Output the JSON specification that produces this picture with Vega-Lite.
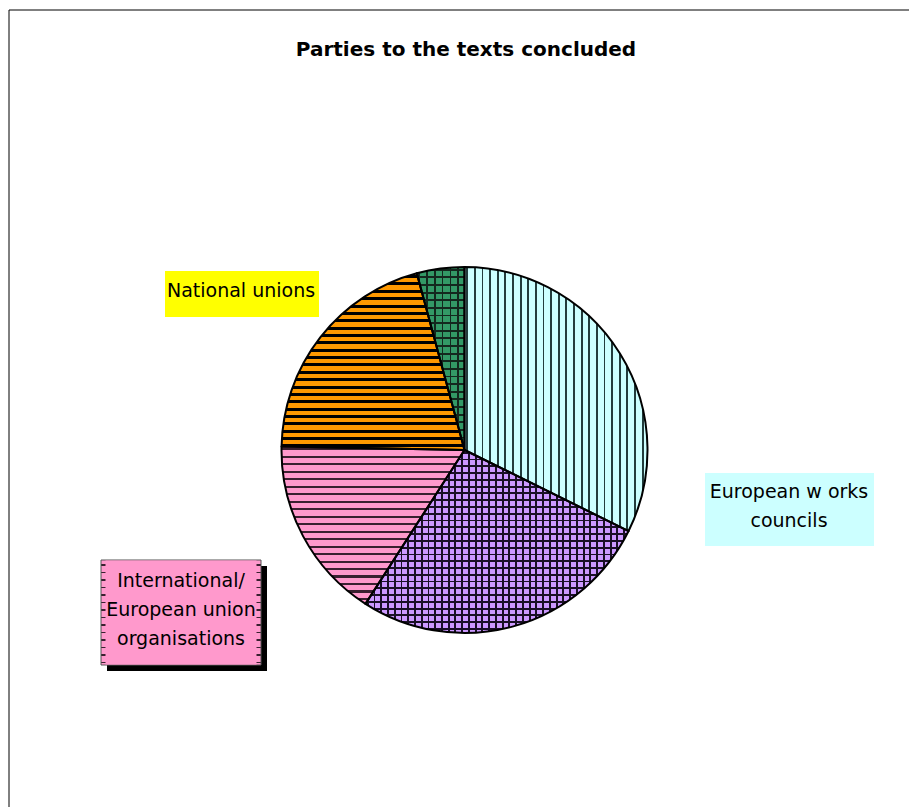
{
"$schema": "https://vega.github.io/schema/vega-lite/v6.json",
"width": 889,
"height": 714,
"autosize": {"type": "none"},
"padding": {"left": 20, "top": 93, "right": 0, "bottom": 0},
"background": "#ffffff",
"config": {"view": {"stroke": null}},
"data": {"values": [
  {"party": "European works councils", "label": "European w orks\ncouncils", "value": 32.3, "order": 1},
  {"party": "Joint (works councils and unions)", "label": "", "value": 26.8, "order": 2},
  {"party": "International/European union organisations", "label": "International/\nEuropean union\norganisations", "value": 16.2, "order": 3},
  {"party": "National unions", "label": "National unions", "value": 20.5, "order": 4},
  {"party": "Other", "label": "", "value": 4.2, "order": 5}
]},
"transform": [{"stack": "value", "groupby": [], "sort": [{"field": "order", "order": "ascending"}], "as": ["t0", "t1"]}],
"layer": [
  {"data": {"values": [{}]}, "mark": {"type": "rect", "fill": "#ffffff", "stroke": "#000000", "strokeWidth": 1},
   "encoding": {"x": {"value": -11}, "y": {"value": -83}, "x2": {"value": 920}, "y2": {"value": 900}}},

  {"data": {"values": [{"title": "Parties to the texts concluded"}]},
   "mark": {"type": "text", "font": "DejaVu Sans", "fontSize": 20, "fontWeight": "bold", "color": "#000000", "align": "center", "baseline": "alphabetic"},
   "encoding": {"text": {"field": "title"}, "x": {"value": 446}, "y": {"value": -37}}},

  {"transform": [{"filter": "datum.order == 1"}],
   "mark": {"type": "arc", "radius": 183, "fill": {"gradient": "linear", "x1": 0, "y1": 0, "x2": 1, "y2": 0, "stops": [
{"offset":0.01,"color":"#ccffff"},{"offset":0.01,"color":"#223c3c"},{"offset":0.02,"color":"#223c3c"},{"offset":0.02,"color":"#ccffff"},
{"offset":0.0517,"color":"#ccffff"},{"offset":0.0517,"color":"#223c3c"},{"offset":0.0617,"color":"#223c3c"},{"offset":0.0617,"color":"#ccffff"},
{"offset":0.0933,"color":"#ccffff"},{"offset":0.0933,"color":"#223c3c"},{"offset":0.1033,"color":"#223c3c"},{"offset":0.1033,"color":"#ccffff"},
{"offset":0.135,"color":"#ccffff"},{"offset":0.135,"color":"#223c3c"},{"offset":0.145,"color":"#223c3c"},{"offset":0.145,"color":"#ccffff"},
{"offset":0.1767,"color":"#ccffff"},{"offset":0.1767,"color":"#223c3c"},{"offset":0.1867,"color":"#223c3c"},{"offset":0.1867,"color":"#ccffff"},
{"offset":0.2183,"color":"#ccffff"},{"offset":0.2183,"color":"#223c3c"},{"offset":0.2283,"color":"#223c3c"},{"offset":0.2283,"color":"#ccffff"},
{"offset":0.26,"color":"#ccffff"},{"offset":0.26,"color":"#223c3c"},{"offset":0.27,"color":"#223c3c"},{"offset":0.27,"color":"#ccffff"},
{"offset":0.3017,"color":"#ccffff"},{"offset":0.3017,"color":"#223c3c"},{"offset":0.3117,"color":"#223c3c"},{"offset":0.3117,"color":"#ccffff"},
{"offset":0.3433,"color":"#ccffff"},{"offset":0.3433,"color":"#223c3c"},{"offset":0.3533,"color":"#223c3c"},{"offset":0.3533,"color":"#ccffff"},
{"offset":0.385,"color":"#ccffff"},{"offset":0.385,"color":"#223c3c"},{"offset":0.395,"color":"#223c3c"},{"offset":0.395,"color":"#ccffff"},
{"offset":0.4267,"color":"#ccffff"},{"offset":0.4267,"color":"#223c3c"},{"offset":0.4367,"color":"#223c3c"},{"offset":0.4367,"color":"#ccffff"},
{"offset":0.4683,"color":"#ccffff"},{"offset":0.4683,"color":"#223c3c"},{"offset":0.4783,"color":"#223c3c"},{"offset":0.4783,"color":"#ccffff"},
{"offset":0.51,"color":"#ccffff"},{"offset":0.51,"color":"#223c3c"},{"offset":0.52,"color":"#223c3c"},{"offset":0.52,"color":"#ccffff"},
{"offset":0.5517,"color":"#ccffff"},{"offset":0.5517,"color":"#223c3c"},{"offset":0.5617,"color":"#223c3c"},{"offset":0.5617,"color":"#ccffff"},
{"offset":0.5933,"color":"#ccffff"},{"offset":0.5933,"color":"#223c3c"},{"offset":0.6033,"color":"#223c3c"},{"offset":0.6033,"color":"#ccffff"},
{"offset":0.635,"color":"#ccffff"},{"offset":0.635,"color":"#223c3c"},{"offset":0.645,"color":"#223c3c"},{"offset":0.645,"color":"#ccffff"},
{"offset":0.6767,"color":"#ccffff"},{"offset":0.6767,"color":"#223c3c"},{"offset":0.6867,"color":"#223c3c"},{"offset":0.6867,"color":"#ccffff"},
{"offset":0.7183,"color":"#ccffff"},{"offset":0.7183,"color":"#223c3c"},{"offset":0.7283,"color":"#223c3c"},{"offset":0.7283,"color":"#ccffff"},
{"offset":0.76,"color":"#ccffff"},{"offset":0.76,"color":"#223c3c"},{"offset":0.77,"color":"#223c3c"},{"offset":0.77,"color":"#ccffff"},
{"offset":0.8017,"color":"#ccffff"},{"offset":0.8017,"color":"#223c3c"},{"offset":0.8117,"color":"#223c3c"},{"offset":0.8117,"color":"#ccffff"},
{"offset":0.8433,"color":"#ccffff"},{"offset":0.8433,"color":"#223c3c"},{"offset":0.8533,"color":"#223c3c"},{"offset":0.8533,"color":"#ccffff"},
{"offset":0.885,"color":"#ccffff"},{"offset":0.885,"color":"#223c3c"},{"offset":0.895,"color":"#223c3c"},{"offset":0.895,"color":"#ccffff"},
{"offset":0.9267,"color":"#ccffff"},{"offset":0.9267,"color":"#223c3c"},{"offset":0.9367,"color":"#223c3c"},{"offset":0.9367,"color":"#ccffff"},
{"offset":0.9683,"color":"#ccffff"},{"offset":0.9683,"color":"#223c3c"},{"offset":0.9783,"color":"#223c3c"},{"offset":0.9783,"color":"#ccffff"}
   ]}},
   "encoding": {"theta": {"field": "t0", "type": "quantitative", "scale": {"domain": [0, 100]}}, "theta2": {"field": "t1"}}},

  {"transform": [{"filter": "datum.order == 2"}],
   "mark": {"type": "arc", "radius": 183, "fill": {"gradient": "linear", "x1": 0, "y1": 0, "x2": 0, "y2": 1, "stops": [
{"offset":0.01,"color":"#cc99ff"},{"offset":0.01,"color":"#1a1026"},{"offset":0.02,"color":"#1a1026"},{"offset":0.02,"color":"#cc99ff"},
{"offset":0.047,"color":"#cc99ff"},{"offset":0.047,"color":"#1a1026"},{"offset":0.057,"color":"#1a1026"},{"offset":0.057,"color":"#cc99ff"},
{"offset":0.0841,"color":"#cc99ff"},{"offset":0.0841,"color":"#1a1026"},{"offset":0.0941,"color":"#1a1026"},{"offset":0.0941,"color":"#cc99ff"},
{"offset":0.1211,"color":"#cc99ff"},{"offset":0.1211,"color":"#1a1026"},{"offset":0.1311,"color":"#1a1026"},{"offset":0.1311,"color":"#cc99ff"},
{"offset":0.1581,"color":"#cc99ff"},{"offset":0.1581,"color":"#1a1026"},{"offset":0.1681,"color":"#1a1026"},{"offset":0.1681,"color":"#cc99ff"},
{"offset":0.1952,"color":"#cc99ff"},{"offset":0.1952,"color":"#1a1026"},{"offset":0.2052,"color":"#1a1026"},{"offset":0.2052,"color":"#cc99ff"},
{"offset":0.2322,"color":"#cc99ff"},{"offset":0.2322,"color":"#1a1026"},{"offset":0.2422,"color":"#1a1026"},{"offset":0.2422,"color":"#cc99ff"},
{"offset":0.2693,"color":"#cc99ff"},{"offset":0.2693,"color":"#1a1026"},{"offset":0.2793,"color":"#1a1026"},{"offset":0.2793,"color":"#cc99ff"},
{"offset":0.3063,"color":"#cc99ff"},{"offset":0.3063,"color":"#1a1026"},{"offset":0.3163,"color":"#1a1026"},{"offset":0.3163,"color":"#cc99ff"},
{"offset":0.3433,"color":"#cc99ff"},{"offset":0.3433,"color":"#1a1026"},{"offset":0.3533,"color":"#1a1026"},{"offset":0.3533,"color":"#cc99ff"},
{"offset":0.3804,"color":"#cc99ff"},{"offset":0.3804,"color":"#1a1026"},{"offset":0.3904,"color":"#1a1026"},{"offset":0.3904,"color":"#cc99ff"},
{"offset":0.4174,"color":"#cc99ff"},{"offset":0.4174,"color":"#1a1026"},{"offset":0.4274,"color":"#1a1026"},{"offset":0.4274,"color":"#cc99ff"},
{"offset":0.4544,"color":"#cc99ff"},{"offset":0.4544,"color":"#1a1026"},{"offset":0.4644,"color":"#1a1026"},{"offset":0.4644,"color":"#cc99ff"},
{"offset":0.4915,"color":"#cc99ff"},{"offset":0.4915,"color":"#1a1026"},{"offset":0.5015,"color":"#1a1026"},{"offset":0.5015,"color":"#cc99ff"},
{"offset":0.5285,"color":"#cc99ff"},{"offset":0.5285,"color":"#1a1026"},{"offset":0.5385,"color":"#1a1026"},{"offset":0.5385,"color":"#cc99ff"},
{"offset":0.5656,"color":"#cc99ff"},{"offset":0.5656,"color":"#1a1026"},{"offset":0.5756,"color":"#1a1026"},{"offset":0.5756,"color":"#cc99ff"},
{"offset":0.6026,"color":"#cc99ff"},{"offset":0.6026,"color":"#1a1026"},{"offset":0.6126,"color":"#1a1026"},{"offset":0.6126,"color":"#cc99ff"},
{"offset":0.6396,"color":"#cc99ff"},{"offset":0.6396,"color":"#1a1026"},{"offset":0.6496,"color":"#1a1026"},{"offset":0.6496,"color":"#cc99ff"},
{"offset":0.6767,"color":"#cc99ff"},{"offset":0.6767,"color":"#1a1026"},{"offset":0.6867,"color":"#1a1026"},{"offset":0.6867,"color":"#cc99ff"},
{"offset":0.7137,"color":"#cc99ff"},{"offset":0.7137,"color":"#1a1026"},{"offset":0.7237,"color":"#1a1026"},{"offset":0.7237,"color":"#cc99ff"},
{"offset":0.7507,"color":"#cc99ff"},{"offset":0.7507,"color":"#1a1026"},{"offset":0.7607,"color":"#1a1026"},{"offset":0.7607,"color":"#cc99ff"},
{"offset":0.7878,"color":"#cc99ff"},{"offset":0.7878,"color":"#1a1026"},{"offset":0.7978,"color":"#1a1026"},{"offset":0.7978,"color":"#cc99ff"},
{"offset":0.8248,"color":"#cc99ff"},{"offset":0.8248,"color":"#1a1026"},{"offset":0.8348,"color":"#1a1026"},{"offset":0.8348,"color":"#cc99ff"},
{"offset":0.8619,"color":"#cc99ff"},{"offset":0.8619,"color":"#1a1026"},{"offset":0.8719,"color":"#1a1026"},{"offset":0.8719,"color":"#cc99ff"},
{"offset":0.8989,"color":"#cc99ff"},{"offset":0.8989,"color":"#1a1026"},{"offset":0.9089,"color":"#1a1026"},{"offset":0.9089,"color":"#cc99ff"},
{"offset":0.9359,"color":"#cc99ff"},{"offset":0.9359,"color":"#1a1026"},{"offset":0.9459,"color":"#1a1026"},{"offset":0.9459,"color":"#cc99ff"},
{"offset":0.973,"color":"#cc99ff"},{"offset":0.973,"color":"#1a1026"},{"offset":0.983,"color":"#1a1026"},{"offset":0.983,"color":"#cc99ff"}
   ]}},
   "encoding": {"theta": {"field": "t0", "type": "quantitative", "scale": {"domain": [0, 100]}}, "theta2": {"field": "t1"}}},

  {"transform": [{"filter": "datum.order == 2"}],
   "mark": {"type": "arc", "radius": 183, "fill": {"gradient": "linear", "x1": 0, "y1": 0, "x2": 1, "y2": 0, "stops": [
{"offset":0.005,"color":"rgba(0,0,0,0)"},{"offset":0.005,"color":"#1a1026"},{"offset":0.012,"color":"#1a1026"},{"offset":0.012,"color":"rgba(0,0,0,0)"},
{"offset":0.0306,"color":"rgba(0,0,0,0)"},{"offset":0.0306,"color":"#1a1026"},{"offset":0.0376,"color":"#1a1026"},{"offset":0.0376,"color":"rgba(0,0,0,0)"},
{"offset":0.0563,"color":"rgba(0,0,0,0)"},{"offset":0.0563,"color":"#1a1026"},{"offset":0.0633,"color":"#1a1026"},{"offset":0.0633,"color":"rgba(0,0,0,0)"},
{"offset":0.0819,"color":"rgba(0,0,0,0)"},{"offset":0.0819,"color":"#1a1026"},{"offset":0.0889,"color":"#1a1026"},{"offset":0.0889,"color":"rgba(0,0,0,0)"},
{"offset":0.1076,"color":"rgba(0,0,0,0)"},{"offset":0.1076,"color":"#1a1026"},{"offset":0.1146,"color":"#1a1026"},{"offset":0.1146,"color":"rgba(0,0,0,0)"},
{"offset":0.1332,"color":"rgba(0,0,0,0)"},{"offset":0.1332,"color":"#1a1026"},{"offset":0.1402,"color":"#1a1026"},{"offset":0.1402,"color":"rgba(0,0,0,0)"},
{"offset":0.1588,"color":"rgba(0,0,0,0)"},{"offset":0.1588,"color":"#1a1026"},{"offset":0.1658,"color":"#1a1026"},{"offset":0.1658,"color":"rgba(0,0,0,0)"},
{"offset":0.1845,"color":"rgba(0,0,0,0)"},{"offset":0.1845,"color":"#1a1026"},{"offset":0.1915,"color":"#1a1026"},{"offset":0.1915,"color":"rgba(0,0,0,0)"},
{"offset":0.2101,"color":"rgba(0,0,0,0)"},{"offset":0.2101,"color":"#1a1026"},{"offset":0.2171,"color":"#1a1026"},{"offset":0.2171,"color":"rgba(0,0,0,0)"},
{"offset":0.2358,"color":"rgba(0,0,0,0)"},{"offset":0.2358,"color":"#1a1026"},{"offset":0.2428,"color":"#1a1026"},{"offset":0.2428,"color":"rgba(0,0,0,0)"},
{"offset":0.2614,"color":"rgba(0,0,0,0)"},{"offset":0.2614,"color":"#1a1026"},{"offset":0.2684,"color":"#1a1026"},{"offset":0.2684,"color":"rgba(0,0,0,0)"},
{"offset":0.2871,"color":"rgba(0,0,0,0)"},{"offset":0.2871,"color":"#1a1026"},{"offset":0.2941,"color":"#1a1026"},{"offset":0.2941,"color":"rgba(0,0,0,0)"},
{"offset":0.3127,"color":"rgba(0,0,0,0)"},{"offset":0.3127,"color":"#1a1026"},{"offset":0.3197,"color":"#1a1026"},{"offset":0.3197,"color":"rgba(0,0,0,0)"},
{"offset":0.3383,"color":"rgba(0,0,0,0)"},{"offset":0.3383,"color":"#1a1026"},{"offset":0.3453,"color":"#1a1026"},{"offset":0.3453,"color":"rgba(0,0,0,0)"},
{"offset":0.364,"color":"rgba(0,0,0,0)"},{"offset":0.364,"color":"#1a1026"},{"offset":0.371,"color":"#1a1026"},{"offset":0.371,"color":"rgba(0,0,0,0)"},
{"offset":0.3896,"color":"rgba(0,0,0,0)"},{"offset":0.3896,"color":"#1a1026"},{"offset":0.3966,"color":"#1a1026"},{"offset":0.3966,"color":"rgba(0,0,0,0)"},
{"offset":0.4153,"color":"rgba(0,0,0,0)"},{"offset":0.4153,"color":"#1a1026"},{"offset":0.4223,"color":"#1a1026"},{"offset":0.4223,"color":"rgba(0,0,0,0)"},
{"offset":0.4409,"color":"rgba(0,0,0,0)"},{"offset":0.4409,"color":"#1a1026"},{"offset":0.4479,"color":"#1a1026"},{"offset":0.4479,"color":"rgba(0,0,0,0)"},
{"offset":0.4665,"color":"rgba(0,0,0,0)"},{"offset":0.4665,"color":"#1a1026"},{"offset":0.4735,"color":"#1a1026"},{"offset":0.4735,"color":"rgba(0,0,0,0)"},
{"offset":0.4922,"color":"rgba(0,0,0,0)"},{"offset":0.4922,"color":"#1a1026"},{"offset":0.4992,"color":"#1a1026"},{"offset":0.4992,"color":"rgba(0,0,0,0)"},
{"offset":0.5178,"color":"rgba(0,0,0,0)"},{"offset":0.5178,"color":"#1a1026"},{"offset":0.5248,"color":"#1a1026"},{"offset":0.5248,"color":"rgba(0,0,0,0)"},
{"offset":0.5435,"color":"rgba(0,0,0,0)"},{"offset":0.5435,"color":"#1a1026"},{"offset":0.5505,"color":"#1a1026"},{"offset":0.5505,"color":"rgba(0,0,0,0)"},
{"offset":0.5691,"color":"rgba(0,0,0,0)"},{"offset":0.5691,"color":"#1a1026"},{"offset":0.5761,"color":"#1a1026"},{"offset":0.5761,"color":"rgba(0,0,0,0)"},
{"offset":0.5947,"color":"rgba(0,0,0,0)"},{"offset":0.5947,"color":"#1a1026"},{"offset":0.6017,"color":"#1a1026"},{"offset":0.6017,"color":"rgba(0,0,0,0)"},
{"offset":0.6204,"color":"rgba(0,0,0,0)"},{"offset":0.6204,"color":"#1a1026"},{"offset":0.6274,"color":"#1a1026"},{"offset":0.6274,"color":"rgba(0,0,0,0)"},
{"offset":0.646,"color":"rgba(0,0,0,0)"},{"offset":0.646,"color":"#1a1026"},{"offset":0.653,"color":"#1a1026"},{"offset":0.653,"color":"rgba(0,0,0,0)"},
{"offset":0.6717,"color":"rgba(0,0,0,0)"},{"offset":0.6717,"color":"#1a1026"},{"offset":0.6787,"color":"#1a1026"},{"offset":0.6787,"color":"rgba(0,0,0,0)"},
{"offset":0.6973,"color":"rgba(0,0,0,0)"},{"offset":0.6973,"color":"#1a1026"},{"offset":0.7043,"color":"#1a1026"},{"offset":0.7043,"color":"rgba(0,0,0,0)"},
{"offset":0.7229,"color":"rgba(0,0,0,0)"},{"offset":0.7229,"color":"#1a1026"},{"offset":0.7299,"color":"#1a1026"},{"offset":0.7299,"color":"rgba(0,0,0,0)"},
{"offset":0.7486,"color":"rgba(0,0,0,0)"},{"offset":0.7486,"color":"#1a1026"},{"offset":0.7556,"color":"#1a1026"},{"offset":0.7556,"color":"rgba(0,0,0,0)"},
{"offset":0.7742,"color":"rgba(0,0,0,0)"},{"offset":0.7742,"color":"#1a1026"},{"offset":0.7812,"color":"#1a1026"},{"offset":0.7812,"color":"rgba(0,0,0,0)"},
{"offset":0.7999,"color":"rgba(0,0,0,0)"},{"offset":0.7999,"color":"#1a1026"},{"offset":0.8069,"color":"#1a1026"},{"offset":0.8069,"color":"rgba(0,0,0,0)"},
{"offset":0.8255,"color":"rgba(0,0,0,0)"},{"offset":0.8255,"color":"#1a1026"},{"offset":0.8325,"color":"#1a1026"},{"offset":0.8325,"color":"rgba(0,0,0,0)"},
{"offset":0.8512,"color":"rgba(0,0,0,0)"},{"offset":0.8512,"color":"#1a1026"},{"offset":0.8582,"color":"#1a1026"},{"offset":0.8582,"color":"rgba(0,0,0,0)"},
{"offset":0.8768,"color":"rgba(0,0,0,0)"},{"offset":0.8768,"color":"#1a1026"},{"offset":0.8838,"color":"#1a1026"},{"offset":0.8838,"color":"rgba(0,0,0,0)"},
{"offset":0.9024,"color":"rgba(0,0,0,0)"},{"offset":0.9024,"color":"#1a1026"},{"offset":0.9094,"color":"#1a1026"},{"offset":0.9094,"color":"rgba(0,0,0,0)"},
{"offset":0.9281,"color":"rgba(0,0,0,0)"},{"offset":0.9281,"color":"#1a1026"},{"offset":0.9351,"color":"#1a1026"},{"offset":0.9351,"color":"rgba(0,0,0,0)"},
{"offset":0.9537,"color":"rgba(0,0,0,0)"},{"offset":0.9537,"color":"#1a1026"},{"offset":0.9607,"color":"#1a1026"},{"offset":0.9607,"color":"rgba(0,0,0,0)"},
{"offset":0.9794,"color":"rgba(0,0,0,0)"},{"offset":0.9794,"color":"#1a1026"},{"offset":0.9864,"color":"#1a1026"},{"offset":0.9864,"color":"rgba(0,0,0,0)"}
   ]}},
   "encoding": {"theta": {"field": "t0", "type": "quantitative", "scale": {"domain": [0, 100]}}, "theta2": {"field": "t1"}}},

  {"transform": [{"filter": "datum.order == 3"}],
   "mark": {"type": "arc", "radius": 183, "fill": {"gradient": "linear", "x1": 0, "y1": 0, "x2": 0, "y2": 1, "stops": [
{"offset":0.01,"color":"#ff99cc"},{"offset":0.01,"color":"#3a2030"},{"offset":0.023,"color":"#3a2030"},{"offset":0.023,"color":"#ff99cc"},
{"offset":0.0576,"color":"#ff99cc"},{"offset":0.0576,"color":"#3a2030"},{"offset":0.0706,"color":"#3a2030"},{"offset":0.0706,"color":"#ff99cc"},
{"offset":0.1052,"color":"#ff99cc"},{"offset":0.1052,"color":"#3a2030"},{"offset":0.1182,"color":"#3a2030"},{"offset":0.1182,"color":"#ff99cc"},
{"offset":0.1529,"color":"#ff99cc"},{"offset":0.1529,"color":"#3a2030"},{"offset":0.1659,"color":"#3a2030"},{"offset":0.1659,"color":"#ff99cc"},
{"offset":0.2005,"color":"#ff99cc"},{"offset":0.2005,"color":"#3a2030"},{"offset":0.2135,"color":"#3a2030"},{"offset":0.2135,"color":"#ff99cc"},
{"offset":0.2481,"color":"#ff99cc"},{"offset":0.2481,"color":"#3a2030"},{"offset":0.2611,"color":"#3a2030"},{"offset":0.2611,"color":"#ff99cc"},
{"offset":0.2957,"color":"#ff99cc"},{"offset":0.2957,"color":"#3a2030"},{"offset":0.3087,"color":"#3a2030"},{"offset":0.3087,"color":"#ff99cc"},
{"offset":0.3433,"color":"#ff99cc"},{"offset":0.3433,"color":"#3a2030"},{"offset":0.3563,"color":"#3a2030"},{"offset":0.3563,"color":"#ff99cc"},
{"offset":0.391,"color":"#ff99cc"},{"offset":0.391,"color":"#3a2030"},{"offset":0.404,"color":"#3a2030"},{"offset":0.404,"color":"#ff99cc"},
{"offset":0.4386,"color":"#ff99cc"},{"offset":0.4386,"color":"#3a2030"},{"offset":0.4516,"color":"#3a2030"},{"offset":0.4516,"color":"#ff99cc"},
{"offset":0.4862,"color":"#ff99cc"},{"offset":0.4862,"color":"#3a2030"},{"offset":0.4992,"color":"#3a2030"},{"offset":0.4992,"color":"#ff99cc"},
{"offset":0.5338,"color":"#ff99cc"},{"offset":0.5338,"color":"#3a2030"},{"offset":0.5468,"color":"#3a2030"},{"offset":0.5468,"color":"#ff99cc"},
{"offset":0.5814,"color":"#ff99cc"},{"offset":0.5814,"color":"#3a2030"},{"offset":0.5944,"color":"#3a2030"},{"offset":0.5944,"color":"#ff99cc"},
{"offset":0.629,"color":"#ff99cc"},{"offset":0.629,"color":"#3a2030"},{"offset":0.642,"color":"#3a2030"},{"offset":0.642,"color":"#ff99cc"},
{"offset":0.6767,"color":"#ff99cc"},{"offset":0.6767,"color":"#3a2030"},{"offset":0.6897,"color":"#3a2030"},{"offset":0.6897,"color":"#ff99cc"},
{"offset":0.7243,"color":"#ff99cc"},{"offset":0.7243,"color":"#3a2030"},{"offset":0.7373,"color":"#3a2030"},{"offset":0.7373,"color":"#ff99cc"},
{"offset":0.7719,"color":"#ff99cc"},{"offset":0.7719,"color":"#3a2030"},{"offset":0.7849,"color":"#3a2030"},{"offset":0.7849,"color":"#ff99cc"},
{"offset":0.8195,"color":"#ff99cc"},{"offset":0.8195,"color":"#3a2030"},{"offset":0.8325,"color":"#3a2030"},{"offset":0.8325,"color":"#ff99cc"},
{"offset":0.8671,"color":"#ff99cc"},{"offset":0.8671,"color":"#3a2030"},{"offset":0.8801,"color":"#3a2030"},{"offset":0.8801,"color":"#ff99cc"},
{"offset":0.9148,"color":"#ff99cc"},{"offset":0.9148,"color":"#3a2030"},{"offset":0.9278,"color":"#3a2030"},{"offset":0.9278,"color":"#ff99cc"},
{"offset":0.9624,"color":"#ff99cc"},{"offset":0.9624,"color":"#3a2030"},{"offset":0.9754,"color":"#3a2030"},{"offset":0.9754,"color":"#ff99cc"}
   ]}},
   "encoding": {"theta": {"field": "t0", "type": "quantitative", "scale": {"domain": [0, 100]}}, "theta2": {"field": "t1"}}},

  {"transform": [{"filter": "datum.order == 4"}],
   "mark": {"type": "arc", "radius": 183, "fill": {"gradient": "linear", "x1": 0, "y1": 0, "x2": 0, "y2": 1, "stops": [
{"offset":0.01,"color":"#ff9900"},{"offset":0.01,"color":"#000000"},{"offset":0.027,"color":"#000000"},{"offset":0.027,"color":"#ff9900"},
{"offset":0.0517,"color":"#ff9900"},{"offset":0.0517,"color":"#000000"},{"offset":0.0687,"color":"#000000"},{"offset":0.0687,"color":"#ff9900"},
{"offset":0.0933,"color":"#ff9900"},{"offset":0.0933,"color":"#000000"},{"offset":0.1103,"color":"#000000"},{"offset":0.1103,"color":"#ff9900"},
{"offset":0.135,"color":"#ff9900"},{"offset":0.135,"color":"#000000"},{"offset":0.152,"color":"#000000"},{"offset":0.152,"color":"#ff9900"},
{"offset":0.1767,"color":"#ff9900"},{"offset":0.1767,"color":"#000000"},{"offset":0.1937,"color":"#000000"},{"offset":0.1937,"color":"#ff9900"},
{"offset":0.2183,"color":"#ff9900"},{"offset":0.2183,"color":"#000000"},{"offset":0.2353,"color":"#000000"},{"offset":0.2353,"color":"#ff9900"},
{"offset":0.26,"color":"#ff9900"},{"offset":0.26,"color":"#000000"},{"offset":0.277,"color":"#000000"},{"offset":0.277,"color":"#ff9900"},
{"offset":0.3017,"color":"#ff9900"},{"offset":0.3017,"color":"#000000"},{"offset":0.3187,"color":"#000000"},{"offset":0.3187,"color":"#ff9900"},
{"offset":0.3433,"color":"#ff9900"},{"offset":0.3433,"color":"#000000"},{"offset":0.3603,"color":"#000000"},{"offset":0.3603,"color":"#ff9900"},
{"offset":0.385,"color":"#ff9900"},{"offset":0.385,"color":"#000000"},{"offset":0.402,"color":"#000000"},{"offset":0.402,"color":"#ff9900"},
{"offset":0.4267,"color":"#ff9900"},{"offset":0.4267,"color":"#000000"},{"offset":0.4437,"color":"#000000"},{"offset":0.4437,"color":"#ff9900"},
{"offset":0.4683,"color":"#ff9900"},{"offset":0.4683,"color":"#000000"},{"offset":0.4853,"color":"#000000"},{"offset":0.4853,"color":"#ff9900"},
{"offset":0.51,"color":"#ff9900"},{"offset":0.51,"color":"#000000"},{"offset":0.527,"color":"#000000"},{"offset":0.527,"color":"#ff9900"},
{"offset":0.5517,"color":"#ff9900"},{"offset":0.5517,"color":"#000000"},{"offset":0.5687,"color":"#000000"},{"offset":0.5687,"color":"#ff9900"},
{"offset":0.5933,"color":"#ff9900"},{"offset":0.5933,"color":"#000000"},{"offset":0.6103,"color":"#000000"},{"offset":0.6103,"color":"#ff9900"},
{"offset":0.635,"color":"#ff9900"},{"offset":0.635,"color":"#000000"},{"offset":0.652,"color":"#000000"},{"offset":0.652,"color":"#ff9900"},
{"offset":0.6767,"color":"#ff9900"},{"offset":0.6767,"color":"#000000"},{"offset":0.6937,"color":"#000000"},{"offset":0.6937,"color":"#ff9900"},
{"offset":0.7183,"color":"#ff9900"},{"offset":0.7183,"color":"#000000"},{"offset":0.7353,"color":"#000000"},{"offset":0.7353,"color":"#ff9900"},
{"offset":0.76,"color":"#ff9900"},{"offset":0.76,"color":"#000000"},{"offset":0.777,"color":"#000000"},{"offset":0.777,"color":"#ff9900"},
{"offset":0.8017,"color":"#ff9900"},{"offset":0.8017,"color":"#000000"},{"offset":0.8187,"color":"#000000"},{"offset":0.8187,"color":"#ff9900"},
{"offset":0.8433,"color":"#ff9900"},{"offset":0.8433,"color":"#000000"},{"offset":0.8603,"color":"#000000"},{"offset":0.8603,"color":"#ff9900"},
{"offset":0.885,"color":"#ff9900"},{"offset":0.885,"color":"#000000"},{"offset":0.902,"color":"#000000"},{"offset":0.902,"color":"#ff9900"},
{"offset":0.9267,"color":"#ff9900"},{"offset":0.9267,"color":"#000000"},{"offset":0.9437,"color":"#000000"},{"offset":0.9437,"color":"#ff9900"},
{"offset":0.9683,"color":"#ff9900"},{"offset":0.9683,"color":"#000000"},{"offset":0.9853,"color":"#000000"},{"offset":0.9853,"color":"#ff9900"}
   ]}},
   "encoding": {"theta": {"field": "t0", "type": "quantitative", "scale": {"domain": [0, 100]}}, "theta2": {"field": "t1"}}},

  {"transform": [{"filter": "datum.order == 5"}],
   "mark": {"type": "arc", "radius": 183, "fill": {"gradient": "linear", "x1": 0, "y1": 0, "x2": 0, "y2": 1, "stops": [
{"offset":0.01,"color":"#339966"},{"offset":0.01,"color":"#14281e"},{"offset":0.02,"color":"#14281e"},{"offset":0.02,"color":"#339966"},
{"offset":0.0517,"color":"#339966"},{"offset":0.0517,"color":"#14281e"},{"offset":0.0617,"color":"#14281e"},{"offset":0.0617,"color":"#339966"},
{"offset":0.0933,"color":"#339966"},{"offset":0.0933,"color":"#14281e"},{"offset":0.1033,"color":"#14281e"},{"offset":0.1033,"color":"#339966"},
{"offset":0.135,"color":"#339966"},{"offset":0.135,"color":"#14281e"},{"offset":0.145,"color":"#14281e"},{"offset":0.145,"color":"#339966"},
{"offset":0.1767,"color":"#339966"},{"offset":0.1767,"color":"#14281e"},{"offset":0.1867,"color":"#14281e"},{"offset":0.1867,"color":"#339966"},
{"offset":0.2183,"color":"#339966"},{"offset":0.2183,"color":"#14281e"},{"offset":0.2283,"color":"#14281e"},{"offset":0.2283,"color":"#339966"},
{"offset":0.26,"color":"#339966"},{"offset":0.26,"color":"#14281e"},{"offset":0.27,"color":"#14281e"},{"offset":0.27,"color":"#339966"},
{"offset":0.3017,"color":"#339966"},{"offset":0.3017,"color":"#14281e"},{"offset":0.3117,"color":"#14281e"},{"offset":0.3117,"color":"#339966"},
{"offset":0.3433,"color":"#339966"},{"offset":0.3433,"color":"#14281e"},{"offset":0.3533,"color":"#14281e"},{"offset":0.3533,"color":"#339966"},
{"offset":0.385,"color":"#339966"},{"offset":0.385,"color":"#14281e"},{"offset":0.395,"color":"#14281e"},{"offset":0.395,"color":"#339966"},
{"offset":0.4267,"color":"#339966"},{"offset":0.4267,"color":"#14281e"},{"offset":0.4367,"color":"#14281e"},{"offset":0.4367,"color":"#339966"},
{"offset":0.4683,"color":"#339966"},{"offset":0.4683,"color":"#14281e"},{"offset":0.4783,"color":"#14281e"},{"offset":0.4783,"color":"#339966"},
{"offset":0.51,"color":"#339966"},{"offset":0.51,"color":"#14281e"},{"offset":0.52,"color":"#14281e"},{"offset":0.52,"color":"#339966"},
{"offset":0.5517,"color":"#339966"},{"offset":0.5517,"color":"#14281e"},{"offset":0.5617,"color":"#14281e"},{"offset":0.5617,"color":"#339966"},
{"offset":0.5933,"color":"#339966"},{"offset":0.5933,"color":"#14281e"},{"offset":0.6033,"color":"#14281e"},{"offset":0.6033,"color":"#339966"},
{"offset":0.635,"color":"#339966"},{"offset":0.635,"color":"#14281e"},{"offset":0.645,"color":"#14281e"},{"offset":0.645,"color":"#339966"},
{"offset":0.6767,"color":"#339966"},{"offset":0.6767,"color":"#14281e"},{"offset":0.6867,"color":"#14281e"},{"offset":0.6867,"color":"#339966"},
{"offset":0.7183,"color":"#339966"},{"offset":0.7183,"color":"#14281e"},{"offset":0.7283,"color":"#14281e"},{"offset":0.7283,"color":"#339966"},
{"offset":0.76,"color":"#339966"},{"offset":0.76,"color":"#14281e"},{"offset":0.77,"color":"#14281e"},{"offset":0.77,"color":"#339966"},
{"offset":0.8017,"color":"#339966"},{"offset":0.8017,"color":"#14281e"},{"offset":0.8117,"color":"#14281e"},{"offset":0.8117,"color":"#339966"},
{"offset":0.8433,"color":"#339966"},{"offset":0.8433,"color":"#14281e"},{"offset":0.8533,"color":"#14281e"},{"offset":0.8533,"color":"#339966"},
{"offset":0.885,"color":"#339966"},{"offset":0.885,"color":"#14281e"},{"offset":0.895,"color":"#14281e"},{"offset":0.895,"color":"#339966"},
{"offset":0.9267,"color":"#339966"},{"offset":0.9267,"color":"#14281e"},{"offset":0.9367,"color":"#14281e"},{"offset":0.9367,"color":"#339966"},
{"offset":0.9683,"color":"#339966"},{"offset":0.9683,"color":"#14281e"},{"offset":0.9783,"color":"#14281e"},{"offset":0.9783,"color":"#339966"}
   ]}},
   "encoding": {"theta": {"field": "t0", "type": "quantitative", "scale": {"domain": [0, 100]}}, "theta2": {"field": "t1"}}},

  {"transform": [{"filter": "datum.order == 5"}],
   "mark": {"type": "arc", "radius": 183, "fill": {"gradient": "linear", "x1": 0, "y1": 0, "x2": 1, "y2": 0, "stops": [
{"offset":0.02,"color":"rgba(0,0,0,0)"},{"offset":0.02,"color":"#14281e"},{"offset":0.06,"color":"#14281e"},{"offset":0.06,"color":"rgba(0,0,0,0)"},
{"offset":0.1867,"color":"rgba(0,0,0,0)"},{"offset":0.1867,"color":"#14281e"},{"offset":0.2267,"color":"#14281e"},{"offset":0.2267,"color":"rgba(0,0,0,0)"},
{"offset":0.3533,"color":"rgba(0,0,0,0)"},{"offset":0.3533,"color":"#14281e"},{"offset":0.3933,"color":"#14281e"},{"offset":0.3933,"color":"rgba(0,0,0,0)"},
{"offset":0.52,"color":"rgba(0,0,0,0)"},{"offset":0.52,"color":"#14281e"},{"offset":0.56,"color":"#14281e"},{"offset":0.56,"color":"rgba(0,0,0,0)"},
{"offset":0.6867,"color":"rgba(0,0,0,0)"},{"offset":0.6867,"color":"#14281e"},{"offset":0.7267,"color":"#14281e"},{"offset":0.7267,"color":"rgba(0,0,0,0)"},
{"offset":0.8533,"color":"rgba(0,0,0,0)"},{"offset":0.8533,"color":"#14281e"},{"offset":0.8933,"color":"#14281e"},{"offset":0.8933,"color":"rgba(0,0,0,0)"}
   ]}},
   "encoding": {"theta": {"field": "t0", "type": "quantitative", "scale": {"domain": [0, 100]}}, "theta2": {"field": "t1"}}},

  {"mark": {"type": "arc", "radius": 183, "fill": "transparent", "stroke": "#000000", "strokeWidth": 2, "strokeJoin": "round"},
   "encoding": {"theta": {"field": "t0", "type": "quantitative", "scale": {"domain": [0, 100]}}, "theta2": {"field": "t1"}}},

  {"transform": [{"filter": "datum.order == 3"}], "mark": {"type": "rect", "fill": "#000000"},
   "encoding": {"x": {"value": 87}, "x2": {"value": 247}, "y": {"value": 473}, "y2": {"value": 578}}},
  {"transform": [{"filter": "datum.order == 3"}],
   "mark": {"type": "rect", "stroke": "#555555", "strokeWidth": 1, "fill": {"gradient": "linear", "x1": 0, "y1": 0, "x2": 0, "y2": 1, "stops": [
{"offset":0.04,"color":"#ff99cc"},{"offset":0.04,"color":"#3a2030"},{"offset":0.054,"color":"#3a2030"},{"offset":0.054,"color":"#ff99cc"},
{"offset":0.1114,"color":"#ff99cc"},{"offset":0.1114,"color":"#3a2030"},{"offset":0.1254,"color":"#3a2030"},{"offset":0.1254,"color":"#ff99cc"},
{"offset":0.1829,"color":"#ff99cc"},{"offset":0.1829,"color":"#3a2030"},{"offset":0.1969,"color":"#3a2030"},{"offset":0.1969,"color":"#ff99cc"},
{"offset":0.2543,"color":"#ff99cc"},{"offset":0.2543,"color":"#3a2030"},{"offset":0.2683,"color":"#3a2030"},{"offset":0.2683,"color":"#ff99cc"},
{"offset":0.3257,"color":"#ff99cc"},{"offset":0.3257,"color":"#3a2030"},{"offset":0.3397,"color":"#3a2030"},{"offset":0.3397,"color":"#ff99cc"},
{"offset":0.3971,"color":"#ff99cc"},{"offset":0.3971,"color":"#3a2030"},{"offset":0.4111,"color":"#3a2030"},{"offset":0.4111,"color":"#ff99cc"},
{"offset":0.4686,"color":"#ff99cc"},{"offset":0.4686,"color":"#3a2030"},{"offset":0.4826,"color":"#3a2030"},{"offset":0.4826,"color":"#ff99cc"},
{"offset":0.54,"color":"#ff99cc"},{"offset":0.54,"color":"#3a2030"},{"offset":0.554,"color":"#3a2030"},{"offset":0.554,"color":"#ff99cc"},
{"offset":0.6114,"color":"#ff99cc"},{"offset":0.6114,"color":"#3a2030"},{"offset":0.6254,"color":"#3a2030"},{"offset":0.6254,"color":"#ff99cc"},
{"offset":0.6829,"color":"#ff99cc"},{"offset":0.6829,"color":"#3a2030"},{"offset":0.6969,"color":"#3a2030"},{"offset":0.6969,"color":"#ff99cc"},
{"offset":0.7543,"color":"#ff99cc"},{"offset":0.7543,"color":"#3a2030"},{"offset":0.7683,"color":"#3a2030"},{"offset":0.7683,"color":"#ff99cc"},
{"offset":0.8257,"color":"#ff99cc"},{"offset":0.8257,"color":"#3a2030"},{"offset":0.8397,"color":"#3a2030"},{"offset":0.8397,"color":"#ff99cc"},
{"offset":0.8971,"color":"#ff99cc"},{"offset":0.8971,"color":"#3a2030"},{"offset":0.9111,"color":"#3a2030"},{"offset":0.9111,"color":"#ff99cc"},
{"offset":0.9686,"color":"#ff99cc"},{"offset":0.9686,"color":"#3a2030"},{"offset":0.9826,"color":"#3a2030"},{"offset":0.9826,"color":"#ff99cc"}
   ]}},
   "encoding": {"x": {"value": 81}, "x2": {"value": 241}, "y": {"value": 467}, "y2": {"value": 572}}},
  {"transform": [{"filter": "datum.order == 3"}], "mark": {"type": "rect", "fill": "#ff99cc"},
   "encoding": {"x": {"value": 85.5}, "x2": {"value": 236.5}, "y": {"value": 467.5}, "y2": {"value": 571.5}}},
  {"transform": [{"filter": "datum.order == 4"}], "mark": {"type": "rect", "fill": "#ffff00"},
   "encoding": {"x": {"value": 145}, "x2": {"value": 299}, "y": {"value": 178}, "y2": {"value": 224}}},
  {"transform": [{"filter": "datum.order == 1"}], "mark": {"type": "rect", "fill": "#ccffff"},
   "encoding": {"x": {"value": 685}, "x2": {"value": 854}, "y": {"value": 380}, "y2": {"value": 453}}},

  {"transform": [{"filter": "datum.order == 4"}],
   "mark": {"type": "text", "font": "DejaVu Sans", "fontSize": 19, "color": "#000000", "align": "center", "baseline": "alphabetic", "lineBreak": "\n", "lineHeight": 29},
   "encoding": {"text": {"field": "label"}, "x": {"value": 221}, "y": {"value": 204}}},
  {"transform": [{"filter": "datum.order == 1"}],
   "mark": {"type": "text", "font": "DejaVu Sans", "fontSize": 19, "color": "#000000", "align": "center", "baseline": "alphabetic", "lineBreak": "\n", "lineHeight": 29},
   "encoding": {"text": {"field": "label"}, "x": {"value": 769}, "y": {"value": 405}}},
  {"transform": [{"filter": "datum.order == 3"}],
   "mark": {"type": "text", "font": "DejaVu Sans", "fontSize": 19, "color": "#000000", "align": "center", "baseline": "alphabetic", "lineBreak": "\n", "lineHeight": 29},
   "encoding": {"text": {"field": "label"}, "x": {"value": 161}, "y": {"value": 494}}}
]
}
